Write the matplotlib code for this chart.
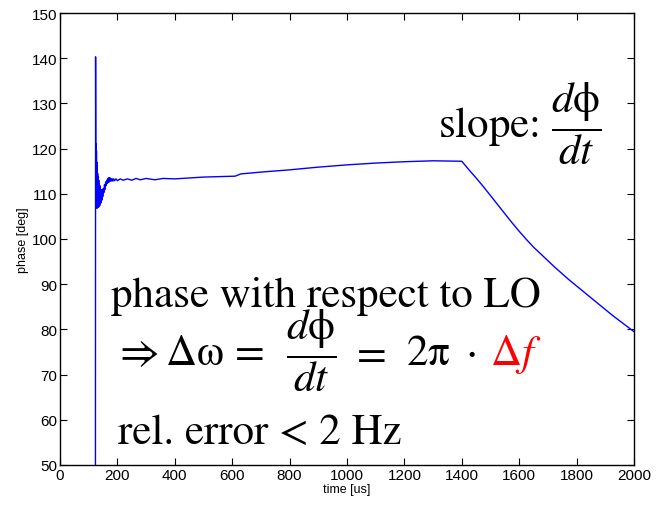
import numpy as np
import matplotlib
matplotlib.use('Agg')
import matplotlib.pyplot as plt

time_us = [123.5, 124.0, 125.0, 125.6, 126.3, 127.0, 127.7, 128.4, 129.1, 129.8,
           130.5, 131.2, 132.0, 133.0, 134.0, 135.0, 136.0, 137.0, 138.0, 139.0,
           140.0, 141.5, 143.0, 144.5, 146.0, 147.5, 149.0, 151.0, 153.0, 155.0,
           157.0, 159.0, 161.0, 163.0, 165.0, 167.0, 169.0, 171.0, 173.0, 175.0,
           178.0, 181.0, 184.0, 187.0, 190.0, 195.0, 200.0, 210.0, 220.0, 235.0,
           250.0, 265.0, 280.0, 300.0, 330.0, 360.0, 400.0, 450.0, 500.0, 610.0,
           630.0, 700.0, 800.0, 900.0, 1000.0, 1100.0, 1200.0, 1300.0, 1400.0,
           1425.0, 1450.0, 1475.0, 1500.0, 1525.0, 1550.0, 1575.0, 1600.0, 1625.0,
           1650.0, 1675.0, 1700.0, 1725.0, 1750.0, 1775.0, 1800.0, 1825.0, 1850.0,
           1875.0, 1900.0, 1925.0, 1950.0, 1975.0, 2000.0]
phase_deg = [50.0, 140.3, 108.0, 121.0, 107.0, 119.5, 106.8, 117.0, 107.0, 115.5,
             106.9, 114.5, 107.2, 113.8, 107.0, 113.0, 107.5, 112.2, 107.3, 111.8,
             107.8, 111.0, 108.0, 110.8, 108.6, 110.9, 109.4, 111.2, 110.3, 112.0,
             111.0, 112.6, 111.8, 113.0, 112.3, 113.4, 112.5, 113.6, 112.7, 113.5,
             112.8, 113.4, 112.8, 113.3, 112.9, 113.3, 112.9, 113.3, 113.0, 113.3,
             113.0, 113.4, 113.1, 113.4, 113.1, 113.4, 113.3, 113.5, 113.7, 113.9,
             114.4, 114.8, 115.3, 115.9, 116.4, 116.8, 117.1, 117.3, 117.2,
             115.3, 113.5, 111.6, 109.6, 107.6, 105.6, 103.6, 101.7, 99.9,
             98.2, 96.7, 95.2, 93.7, 92.3, 90.9, 89.6, 88.3, 87.0,
             85.7, 84.4, 83.1, 81.9, 80.7, 79.5]

xticks = np.arange(0, 2001, 200)
yticks = np.arange(50, 151, 10)

plt.rcParams['font.family'] = ['Liberation Sans', 'DejaVu Sans']
plt.rcParams['mathtext.fontset'] = 'stix'

fig = plt.figure(figsize=(6.64, 5.10), dpi=100)
ax = fig.add_axes([60/664, 1-466/510, 574/664, 452/510])

ax.plot(time_us, phase_deg, color='#0000ff', linewidth=1.0)

ax.set_xlim(0, 2000)
ax.set_ylim(50, 150)
ax.set_xticks(xticks)
ax.set_yticks(yticks)
ax.tick_params(direction='in', length=5, width=0.8, top=True, right=True,
               labelsize=11, pad=2)
for s in ax.spines.values():
    s.set_linewidth(1.0)

ax.set_xlabel('time [us]', fontsize=9, labelpad=1)
ax.set_ylabel('phase [deg]', fontsize=9, labelpad=2)

serif = 'STIXGeneral'
big = 31
frac = r'$\dfrac{d\mathrm{\phi}}{dt}$'
ax.text(1317, 122.6, 'slope: ' + frac, fontsize=big,
        family=serif, va='baseline', ha='left')
ax.text(177, 85.2, 'phase with respect to LO', fontsize=big,
        family=serif, va='baseline', ha='left')
# middle line, pieces placed where they sit in the reference
y_mid = 72.3
ax.text(185, y_mid, r'$\Rightarrow\mathrm{\Delta\omega}\,=$', fontsize=big,
        family=serif, va='baseline', ha='left')
ax.text(875, y_mid, frac, fontsize=big, family=serif, va='baseline', ha='center')
ax.text(1012, y_mid, r'$=$', fontsize=big, family=serif, va='baseline', ha='left')
ax.text(1205, y_mid, r'$2\mathrm{\pi}\ \cdot$', fontsize=big, family=serif,
        va='baseline', ha='left')
ax.text(1498, y_mid, r'$\Delta f$', fontsize=big, family=serif, color='red',
        va='baseline', ha='left')
ax.text(202, 54.9, 'rel. error < 2 Hz', fontsize=big,
        family=serif, va='baseline', ha='left')

fig.savefig('out.png', dpi=100)
